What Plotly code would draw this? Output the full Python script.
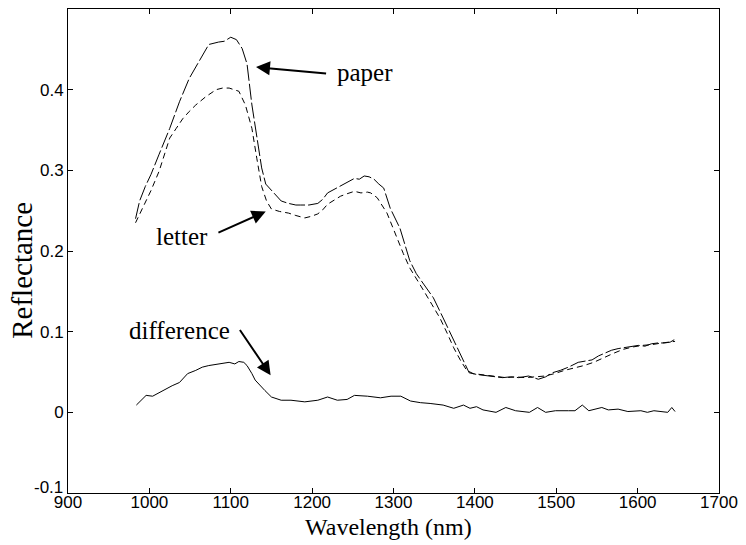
import plotly.graph_objects as go

# ---- data ----
paper_wl = [983, 988, 995, 1002, 1012, 1025, 1037, 1049, 1061, 1073, 1085, 1092, 1100, 1107,
            1114, 1120, 1126, 1132, 1138, 1143, 1150, 1154, 1162, 1171, 1180, 1186, 1196, 1207,
            1213, 1219, 1230, 1240, 1252, 1258, 1264, 1270, 1276, 1282, 1288, 1296, 1308, 1320,
            1328, 1337, 1349, 1361, 1374, 1386, 1393, 1402, 1410, 1422, 1434, 1444, 1454, 1466,
            1478, 1487, 1495, 1505, 1515, 1527, 1535, 1544, 1552, 1560, 1568, 1576, 1588, 1601,
            1609, 1617, 1625, 1633, 1640, 1645]
paper_val = [0.240, 0.262, 0.280, 0.295, 0.320, 0.352, 0.385, 0.414, 0.435, 0.456, 0.459, 0.460,
             0.465, 0.462, 0.451, 0.432, 0.381, 0.340, 0.303, 0.283, 0.275, 0.270, 0.262, 0.259,
             0.257, 0.257, 0.257, 0.259, 0.264, 0.272, 0.278, 0.284, 0.290, 0.289, 0.293, 0.292,
             0.289, 0.283, 0.278, 0.253, 0.228, 0.188, 0.172, 0.159, 0.142, 0.117, 0.089, 0.064,
             0.049, 0.047, 0.046, 0.044, 0.043, 0.044, 0.043, 0.045, 0.041, 0.044, 0.049, 0.052,
             0.056, 0.062, 0.063, 0.065, 0.070, 0.074, 0.077, 0.079, 0.081, 0.083, 0.082, 0.085,
             0.086, 0.086, 0.087, 0.090]

letter_wl = [983, 994, 1002, 1012, 1025, 1033, 1041, 1049, 1057, 1069, 1082, 1090, 1098, 1104,
             1110, 1118, 1126, 1132, 1138, 1144, 1150, 1160, 1171, 1180, 1191, 1199, 1207, 1213,
             1219, 1227, 1235, 1243, 1252, 1260, 1268, 1272, 1280, 1292, 1304, 1312, 1320, 1328,
             1337, 1347, 1357, 1366, 1374, 1382, 1390, 1398, 1406, 1414, 1426, 1438, 1450, 1462,
             1474, 1486, 1498, 1510, 1522, 1534, 1546, 1558, 1570, 1582, 1594, 1606, 1618, 1630,
             1640, 1646]
letter_val = [0.235, 0.258, 0.275, 0.299, 0.340, 0.352, 0.364, 0.373, 0.381, 0.391, 0.400, 0.402,
              0.402, 0.400, 0.398, 0.381, 0.352, 0.315, 0.280, 0.262, 0.252, 0.249, 0.247, 0.244,
              0.241, 0.243, 0.246, 0.251, 0.258, 0.263, 0.268, 0.271, 0.274, 0.272, 0.273, 0.272,
              0.266, 0.247, 0.216, 0.197, 0.179, 0.165, 0.151, 0.134, 0.117, 0.098, 0.080, 0.065,
              0.052, 0.048, 0.047, 0.046, 0.044, 0.043, 0.044, 0.043, 0.044, 0.045, 0.048, 0.052,
              0.055, 0.058, 0.062, 0.068, 0.073, 0.078, 0.081, 0.083, 0.084, 0.086, 0.087, 0.088]

diff_wl = [984, 996, 1004, 1016, 1028, 1037, 1047, 1057, 1065, 1073, 1085, 1098, 1105, 1110,
           1116, 1120, 1126, 1130, 1142, 1150, 1162, 1174, 1191, 1207, 1219, 1231, 1243, 1252,
           1268, 1284, 1297, 1309, 1321, 1333, 1345, 1361, 1374, 1386, 1394, 1402, 1410, 1426,
           1438, 1450, 1467, 1477, 1487, 1499, 1515, 1523, 1532, 1540, 1556, 1564, 1576, 1588,
           1604, 1612, 1620, 1637, 1642, 1646]
diff_val = [0.009, 0.021, 0.020, 0.027, 0.033, 0.037, 0.048, 0.052, 0.056, 0.058, 0.060, 0.062,
            0.060, 0.063, 0.062, 0.058, 0.048, 0.040, 0.027, 0.019, 0.015, 0.015, 0.013, 0.015,
            0.019, 0.015, 0.016, 0.021, 0.020, 0.018, 0.020, 0.020, 0.014, 0.012, 0.011, 0.009,
            0.005, 0.009, 0.005, 0.007, 0.003, 0.000, 0.006, 0.002, 0.000, 0.006, 0.000, 0.002,
            0.002, 0.002, 0.009, 0.002, 0.006, 0.003, 0.004, 0.001, 0.002, 0.000, 0.002, 0.000,
            0.006, 0.001]

x_ticks = [900, 1000, 1100, 1200, 1300, 1400, 1500, 1600, 1700]
y_ticks = [-0.1, 0, 0.1, 0.2, 0.3, 0.4]
y_tick_text = ["-0.1", "0", "0.1", "0.2", "0.3", "0.4"]

x_title = "Wavelength (nm)"
y_title = "Reflectance"

# annotation labels: (text, text x, text y, anchor, arrow tail x, tail y, tip x, tip y)
labels = [
    ("paper", 1228, 0.421, "left", 1219, 0.420, 1131, 0.428),
    ("letter", 1074, 0.218, "right", 1083, 0.222, 1143, 0.249),
    ("difference", 1037, 0.101, "center", 1110, 0.104, 1149, 0.046),
]

serif = "Liberation Serif, Times New Roman, serif"
sans = "Liberation Sans, Arial, sans-serif"

fig = go.Figure()
fig.add_trace(go.Scatter(x=paper_wl, y=paper_val, mode="lines", name="paper",
                         line=dict(color="black", width=1, dash="16px,3px")))
fig.add_trace(go.Scatter(x=letter_wl, y=letter_val, mode="lines", name="letter",
                         line=dict(color="black", width=1, dash="6px,4px")))
fig.add_trace(go.Scatter(x=diff_wl, y=diff_val, mode="lines", name="difference",
                         line=dict(color="black", width=1)))

for text, tx, ty, anchor, ax, ay, px, py in labels:
    fig.add_annotation(x=px, y=py, ax=ax, ay=ay, xref="x", yref="y", axref="x", ayref="y",
                       text="", showarrow=True, arrowhead=2, arrowsize=1.4, arrowwidth=2,
                       arrowcolor="black", standoff=0, startstandoff=0)
    fig.add_annotation(x=tx, y=ty, xref="x", yref="y", text=text, showarrow=False,
                       xanchor=anchor, yanchor="middle",
                       font=dict(family=serif, size=25, color="black"))

# axis titles as paper-positioned text
fig.add_annotation(x=0.493, y=-0.071, xref="paper", yref="paper", text=x_title,
                   showarrow=False, xanchor="center", yanchor="middle",
                   font=dict(family=serif, size=24, color="black"))
fig.add_annotation(x=-0.070, y=0.46, xref="paper", yref="paper", text=y_title,
                   showarrow=False, xanchor="center", yanchor="middle", textangle=-90,
                   font=dict(family=serif, size=29, color="black"))

# lowest y tick label sits slightly above its tick (as in the reference)
fig.add_annotation(x=0, y=y_ticks[0], xref="paper", yref="y", text=y_tick_text[0],
                   showarrow=False, xanchor="right", yanchor="middle", xshift=-3, yshift=6,
                   font=dict(family=sans, size=17, color="black"))

axis_common = dict(showgrid=False, zeroline=False, showline=True, linecolor="black",
                   linewidth=1, mirror="ticks", ticks="inside", ticklen=5, tickcolor="black",
                   tickwidth=1, tickfont=dict(family=sans, size=17, color="black"))

fig.update_xaxes(range=[900, 1700], tickvals=x_ticks, ticktext=[str(v) for v in x_ticks],
                 ticklabelstandoff=-6, **axis_common)
fig.update_yaxes(range=[-0.1, 0.5], tickvals=y_ticks, ticktext=[""] + y_tick_text[1:],
                 **axis_common)

fig.update_layout(width=746, height=545, showlegend=False,
                  paper_bgcolor="white", plot_bgcolor="white",
                  margin=dict(l=68, r=21, t=8, b=52))

fig.write_html("out.html", config={"displayModeBar": False},
               post_script="document.body.style.margin='0px';")
